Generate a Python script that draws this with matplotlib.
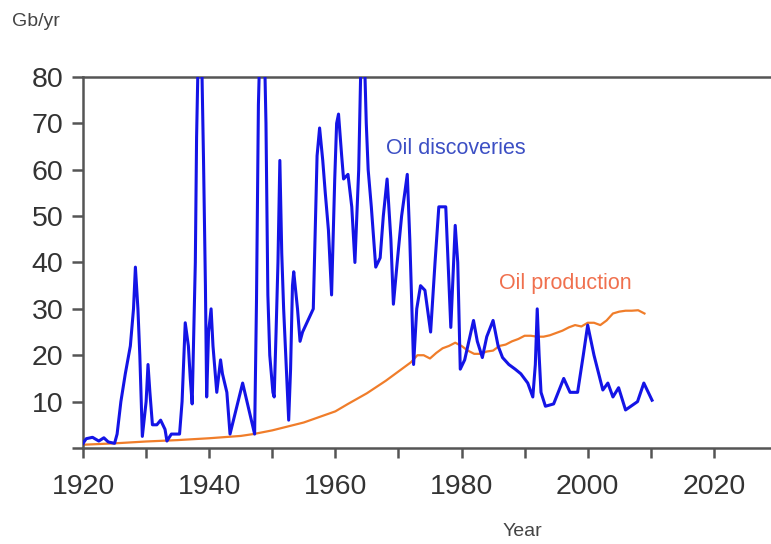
import matplotlib
matplotlib.use("Agg")
import matplotlib.pyplot as plt
from matplotlib.ticker import MultipleLocator

plt.rcParams['font.family'] = ['Liberation Sans', 'DejaVu Sans']

# Oil discoveries, Gb/yr (values above 80 run off the top)
disc_years = [1920.0, 1920.5, 1921.5, 1922.5, 1923.3, 1924.0, 1925.0, 1925.4, 1926.0, 1926.7,
              1927.5, 1928.0, 1928.3, 1928.7, 1929.0, 1929.4, 1930.0, 1930.3, 1930.6, 1931.0,
              1931.7, 1932.3, 1933.0, 1933.3, 1934.0, 1935.3, 1935.7, 1936.0, 1936.2, 1936.7,
              1937.0, 1937.3, 1937.8, 1938.0, 1938.4, 1938.8, 1939.1, 1939.4, 1939.6, 1939.9,
              1940.3, 1940.6, 1941.2, 1941.8, 1942.1, 1942.8, 1943.3, 1945.3, 1947.2, 1947.5,
              1947.8, 1948.1, 1948.7, 1949.0, 1949.3, 1949.6, 1950.1, 1950.3, 1950.6, 1950.9,
              1951.2, 1951.5, 1951.8, 1952.3, 1952.6, 1952.9, 1953.2, 1953.4, 1954.0, 1954.4,
              1954.8, 1956.5, 1956.7, 1957.1, 1957.5, 1958.0, 1958.4, 1958.9, 1959.4, 1959.9,
              1960.2, 1960.5, 1961.0, 1961.3, 1962.0, 1962.6, 1963.1, 1963.7, 1964.0, 1964.5,
              1964.9, 1965.2, 1965.7, 1966.4, 1967.1, 1967.6, 1968.2, 1968.8, 1969.2, 1969.8,
              1970.5, 1971.4, 1971.8, 1972.4, 1972.9, 1973.5, 1974.2, 1975.1, 1975.8, 1976.4,
              1977.5, 1978.3, 1979.0, 1979.4, 1979.8, 1980.5, 1981.0, 1981.9, 1982.5, 1983.3,
              1984.0, 1985.0, 1985.8, 1986.5, 1987.5, 1988.5, 1989.4, 1990.5, 1991.3, 1991.7,
              1992.0, 1992.3, 1992.6, 1993.3, 1994.6, 1996.2, 1997.2, 1998.4, 1999.3, 2000.0,
              2001.0, 2002.4, 2003.2, 2004.0, 2004.9, 2006.0, 2007.9, 2008.9, 2010.2]
disc_values = [1.0, 2.0, 2.3, 1.5, 2.2, 1.3, 1.0, 3, 10, 16,
               22, 30, 39, 30, 20, 2.5, 10, 18, 12, 5,
               5, 6, 4, 1.5, 3, 3, 10, 20, 27, 22,
               15, 9.5, 40, 67, 95, 85, 62, 35, 11, 25,
               30, 22, 12, 19, 16, 12, 3, 14, 3, 32,
               74, 90, 90, 70, 33, 20, 12, 11, 25, 40,
               62, 42, 30, 15, 6, 17, 35, 38, 30, 23,
               25, 30, 41, 63, 69, 62, 55, 47, 33, 58,
               70, 72, 63, 58, 59, 52, 40, 60, 80, 90,
               70, 60, 52, 39, 41, 50, 58, 45, 31, 40,
               50, 59, 45, 18, 30, 35, 34, 25, 40, 52,
               52, 26, 48, 40, 17, 19, 22, 27.5, 23, 19.5,
               24, 27.5, 22, 19.5, 18, 17, 16, 14, 11, 18,
               30, 20, 12, 9, 9.5, 15, 12, 12, 20, 26.5,
               20, 12.5, 14, 11, 13, 8.2, 10, 14, 10.3]

# Oil production, Gb/yr
prod_years = [1920, 1925, 1930, 1935, 1940, 1945, 1947, 1950, 1955, 1960,
              1962, 1965, 1968, 1970, 1971, 1972, 1973, 1974, 1975, 1976,
              1977, 1978, 1979, 1980, 1981, 1982, 1983, 1984, 1985, 1986,
              1987, 1988, 1989, 1990, 1991, 1992, 1993, 1994, 1995, 1996,
              1997, 1998, 1999, 2000, 2001, 2002, 2003, 2004, 2005, 2006,
              2007, 2008, 2009]
prod_values = [0.7, 1.0, 1.4, 1.7, 2.1, 2.6, 3.0, 3.8, 5.5, 7.9,
               9.5, 11.8, 14.5, 16.5, 17.5, 18.5, 20.0, 20.0, 19.3, 20.5,
               21.5, 22.0, 22.7, 22.0, 21.0, 20.3, 20.3, 20.8, 21.0, 22.0,
               22.3, 23.0, 23.5, 24.2, 24.2, 24.0, 24.0, 24.3, 24.8, 25.3,
               26.0, 26.5, 26.2, 27.0, 27.0, 26.5, 27.5, 29.0, 29.4, 29.6,
               29.6, 29.7, 29.0]

fig = plt.figure(figsize=(7.71, 5.44), dpi=100)
ax = fig.add_axes([0.1077, 0.1765, 0.9, 0.682])

ax.plot(prod_years, prod_values, color='#f07d2a', lw=1.6, zorder=2)
ax.plot(disc_years, disc_values, color='#1414e6', lw=2.2, zorder=3)

ax.set_xlim(1920, 2030)
ax.set_ylim(0, 80)
ax.xaxis.set_major_locator(MultipleLocator(20))
ax.xaxis.set_minor_locator(MultipleLocator(10))
ax.set_yticks(range(0, 81, 10))
ax.set_yticklabels([''] + [str(v) for v in range(10, 81, 10)])

for side in ['left', 'bottom', 'top', 'right']:
    ax.spines[side].set_color('#555555')
    ax.spines[side].set_linewidth(1.8)

ax.tick_params(axis='both', which='both', direction='out', color='#555555',
               width=1.8, labelcolor='#333333', labelsize=20.5)
ax.tick_params(axis='x', which='major', length=7, pad=12)
ax.tick_params(axis='x', which='minor', length=7)
ax.tick_params(axis='y', length=8, pad=6)

ax.text(1968.1, 64.5, 'Oil discoveries', color='#3c4fc4', fontsize=15.5,
        ha='left', va='center')
ax.text(1985.9, 35.5, 'Oil production', color='#f0704e', fontsize=15.5,
        ha='left', va='center')

fig.text(12 / 771, 1 - 22 / 544, 'Gb/yr', color='#444444', fontsize=14,
         ha='left', va='center')
fig.text(522 / 771, 1 - 532 / 544, 'Year', color='#444444', fontsize=14,
         ha='center', va='center')

fig.savefig('out.png', dpi=100)
